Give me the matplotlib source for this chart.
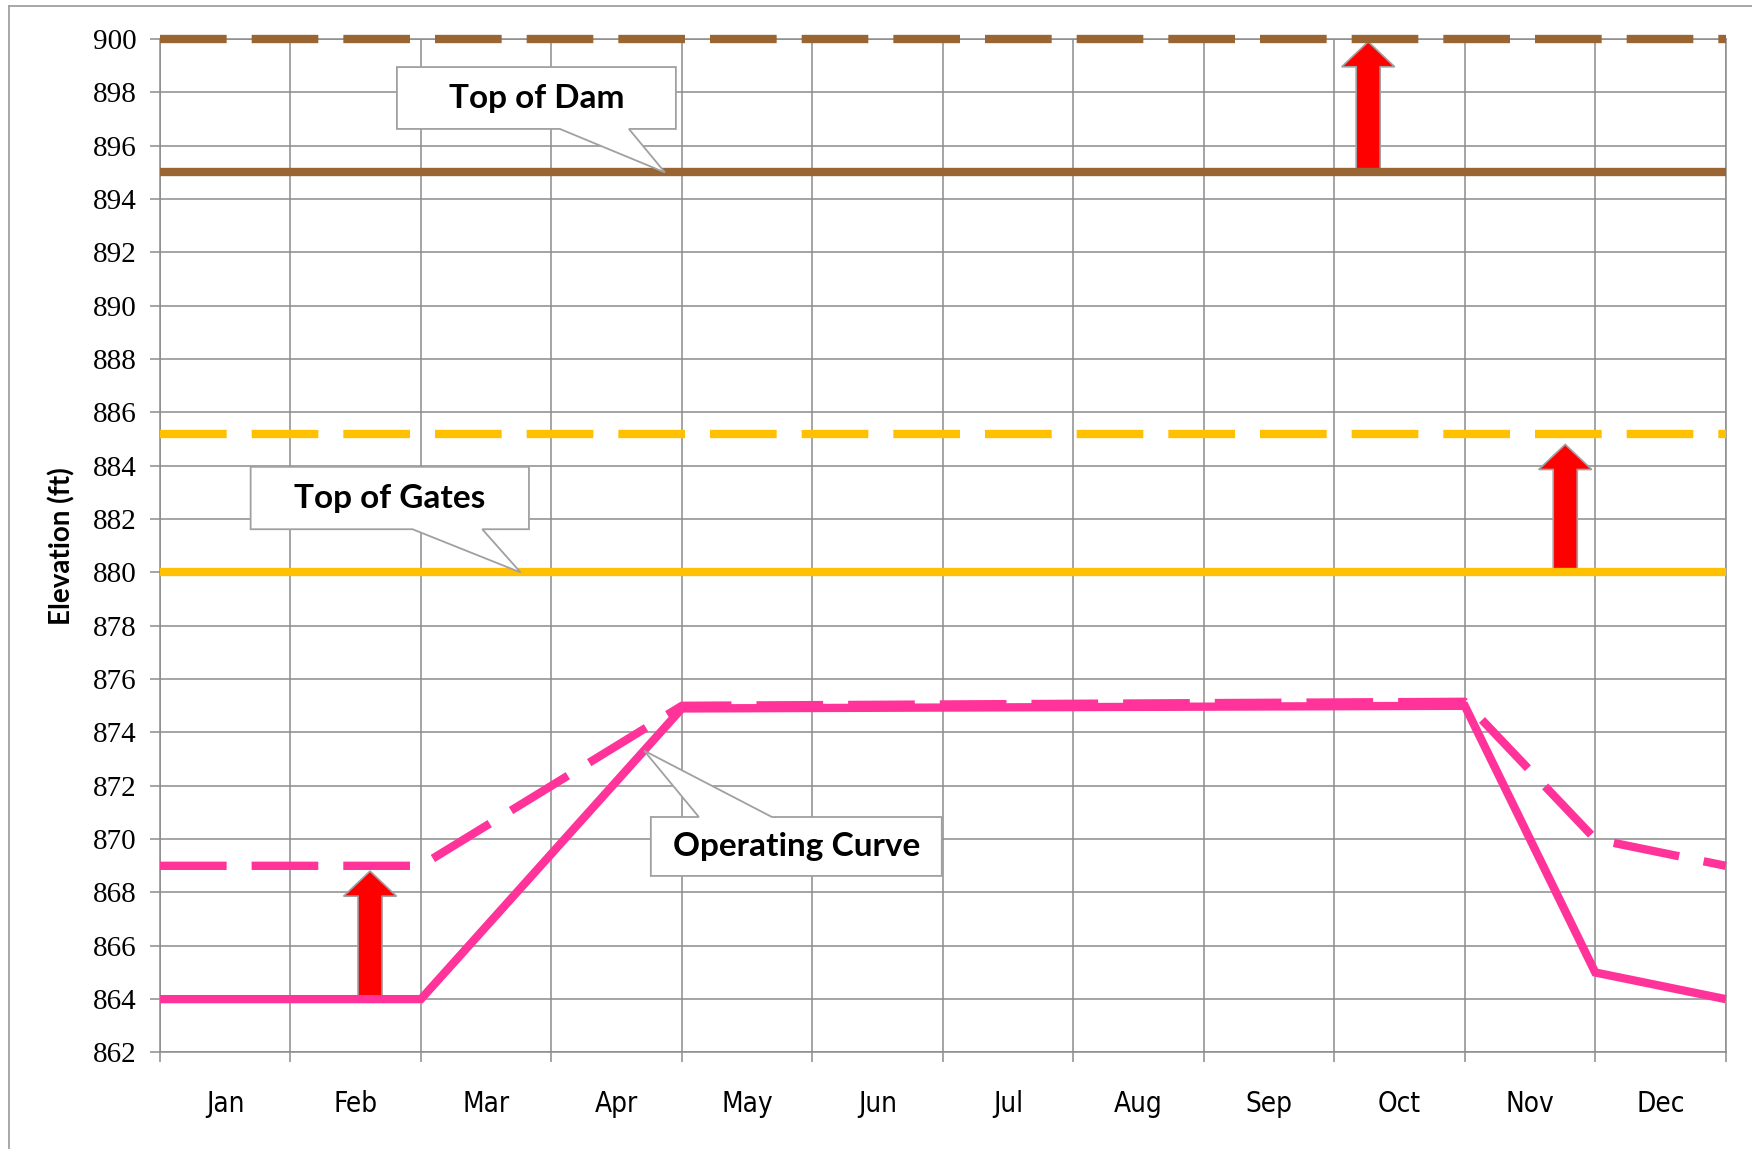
import numpy as np
import matplotlib.pyplot as plt
from matplotlib.patches import Polygon
from matplotlib.lines import Line2D
from matplotlib import font_manager

# ======================================
# DATA
# ======================================
months = ['Jan', 'Feb', 'Mar', 'Apr', 'May', 'Jun',
          'Jul', 'Aug', 'Sep', 'Oct', 'Nov', 'Dec']
elev_ticks = list(range(862, 901, 2))

level_x = [0, 12]
dam_now = [895, 895]
dam_raised = [900, 900]
gates_now = [880, 880]
gates_raised = [885.2, 885.2]

# operating curve, points at month boundaries
curve_x = [0, 2, 4, 10, 11, 12]
curve_now = [864, 864, 874.9, 875.0, 865, 864]
curve_raised = [869, 869, 875.0, 875.15, 870, 869]

# red "raise" arrows
arrow_x = [1.61, 9.26, 10.77]
arrow_from = [864, 895, 880]
arrow_to = [868.8, 899.9, 884.8]

BROWN = '#996633'
GOLD = '#FFC000'
PINK = '#FF3399'
GRID = '#8c8c8c'
BOX_EDGE = '#a0a0a0'
LW = 6.0
DASH = (8, 3)

# narrow font for the month labels if there is one
names = {f.name for f in font_manager.fontManager.ttflist}
if 'Liberation Sans Narrow' in names:
    month_font = dict(family='Liberation Sans Narrow')
else:
    month_font = dict(family='DejaVu Sans', fontstretch='condensed')

# ======================================
# FIGURE
# ======================================
fig = plt.figure(figsize=(17.52, 11.49), dpi=100)
ax = fig.add_axes([0.0913, 0.084, 0.8937, 0.882])

ax.set_xlim(0, 12)
ax.set_ylim(862, 900)

# grid + spines
ax.set_xticks(np.arange(13))
ax.set_xticklabels([])
ax.set_xticks(np.arange(12) + 0.5, minor=True)
ax.set_xticklabels(months, minor=True, fontsize=20, **month_font)
ax.set_yticks(elev_ticks)
ax.set_yticklabels([str(v) for v in elev_ticks], fontsize=21, family='Liberation Serif')
ax.grid(True, which='major', color=GRID, lw=1.1)
ax.set_axisbelow(True)
for s in ax.spines.values():
    s.set_color(GRID)
    s.set_linewidth(1.1)
ax.tick_params(axis='both', which='major', length=7, width=1.1, color=GRID, pad=10)
ax.tick_params(axis='x', which='minor', length=0, pad=27)

# arrows (under the lines)
for x, y0, y1 in zip(arrow_x, arrow_from, arrow_to):
    ax.arrow(x, y0, 0, y1 - y0, width=0.184, head_width=0.406, head_length=0.94,
             length_includes_head=True, fc='#ff0000', ec=BOX_EDGE, lw=1.2, zorder=3)

# lines
ax.plot(level_x, dam_now, color=BROWN, lw=LW, solid_capstyle='butt', zorder=4, clip_on=False)
ax.plot(level_x, dam_raised, color=BROWN, lw=LW, dashes=DASH, dash_capstyle='butt', zorder=4, clip_on=False)
ax.plot(level_x, gates_now, color=GOLD, lw=LW, solid_capstyle='butt', zorder=4, clip_on=False)
ax.plot(level_x, gates_raised, color=GOLD, lw=LW, dashes=DASH, dash_capstyle='butt', zorder=4, clip_on=False)
ax.plot(curve_x, curve_now, color=PINK, lw=LW, solid_capstyle='butt', solid_joinstyle='miter', zorder=4, clip_on=False)
ax.plot(curve_x, curve_raised, color=PINK, lw=LW, dashes=DASH, dash_capstyle='butt', zorder=4, clip_on=False)


# ======================================
# CALLOUTS
# ======================================
def callout(text, left, right, bottom, top, b0, b1, tip, side):
    tx, ty = tip
    if side == 'bottom':
        pts = [(left, top), (right, top), (right, bottom), (b1, bottom),
               (tx, ty), (b0, bottom), (left, bottom)]
    else:
        pts = [(left, top), (b0, top), (tx, ty), (b1, top),
               (right, top), (right, bottom), (left, bottom)]
    ax.add_patch(Polygon(pts, closed=True, fc='white', ec=BOX_EDGE, lw=1.3,
                         joinstyle='miter', zorder=6))
    ax.text((left + right) / 2, (top + bottom) / 2, text, ha='center', va='center',
            fontsize=24, fontweight='bold', family='Lato', zorder=7)


callout('Top of Dam', 1.816, 3.954, 896.63, 898.95, 3.065, 3.594,
        (3.87, dam_now[0]), 'bottom')
callout('Top of Gates', 0.695, 2.828, 881.62, 883.96, 1.936, 2.47,
        (2.764, gates_now[0]), 'bottom')
callout('Operating Curve', 3.762, 5.992, 868.62, 870.83, 4.13, 4.69,
        (3.71, np.interp(3.71, curve_x, curve_now)), 'top')

ax.set_ylabel('Elevation (ft)', fontsize=20, fontweight='bold', family='Lato')
ax.yaxis.set_label_coords(-0.054, 0.5)

# outer frame (top and left edges of the pasted chart)
fig.add_artist(Line2D([9 / 1752, 1], [1 - 6 / 1149, 1 - 6 / 1149], color=BOX_EDGE, lw=1.3))
fig.add_artist(Line2D([9 / 1752, 9 / 1752], [0, 1 - 6 / 1149], color=BOX_EDGE, lw=1.3))

plt.savefig('out.png', dpi=100)
plt.close()
